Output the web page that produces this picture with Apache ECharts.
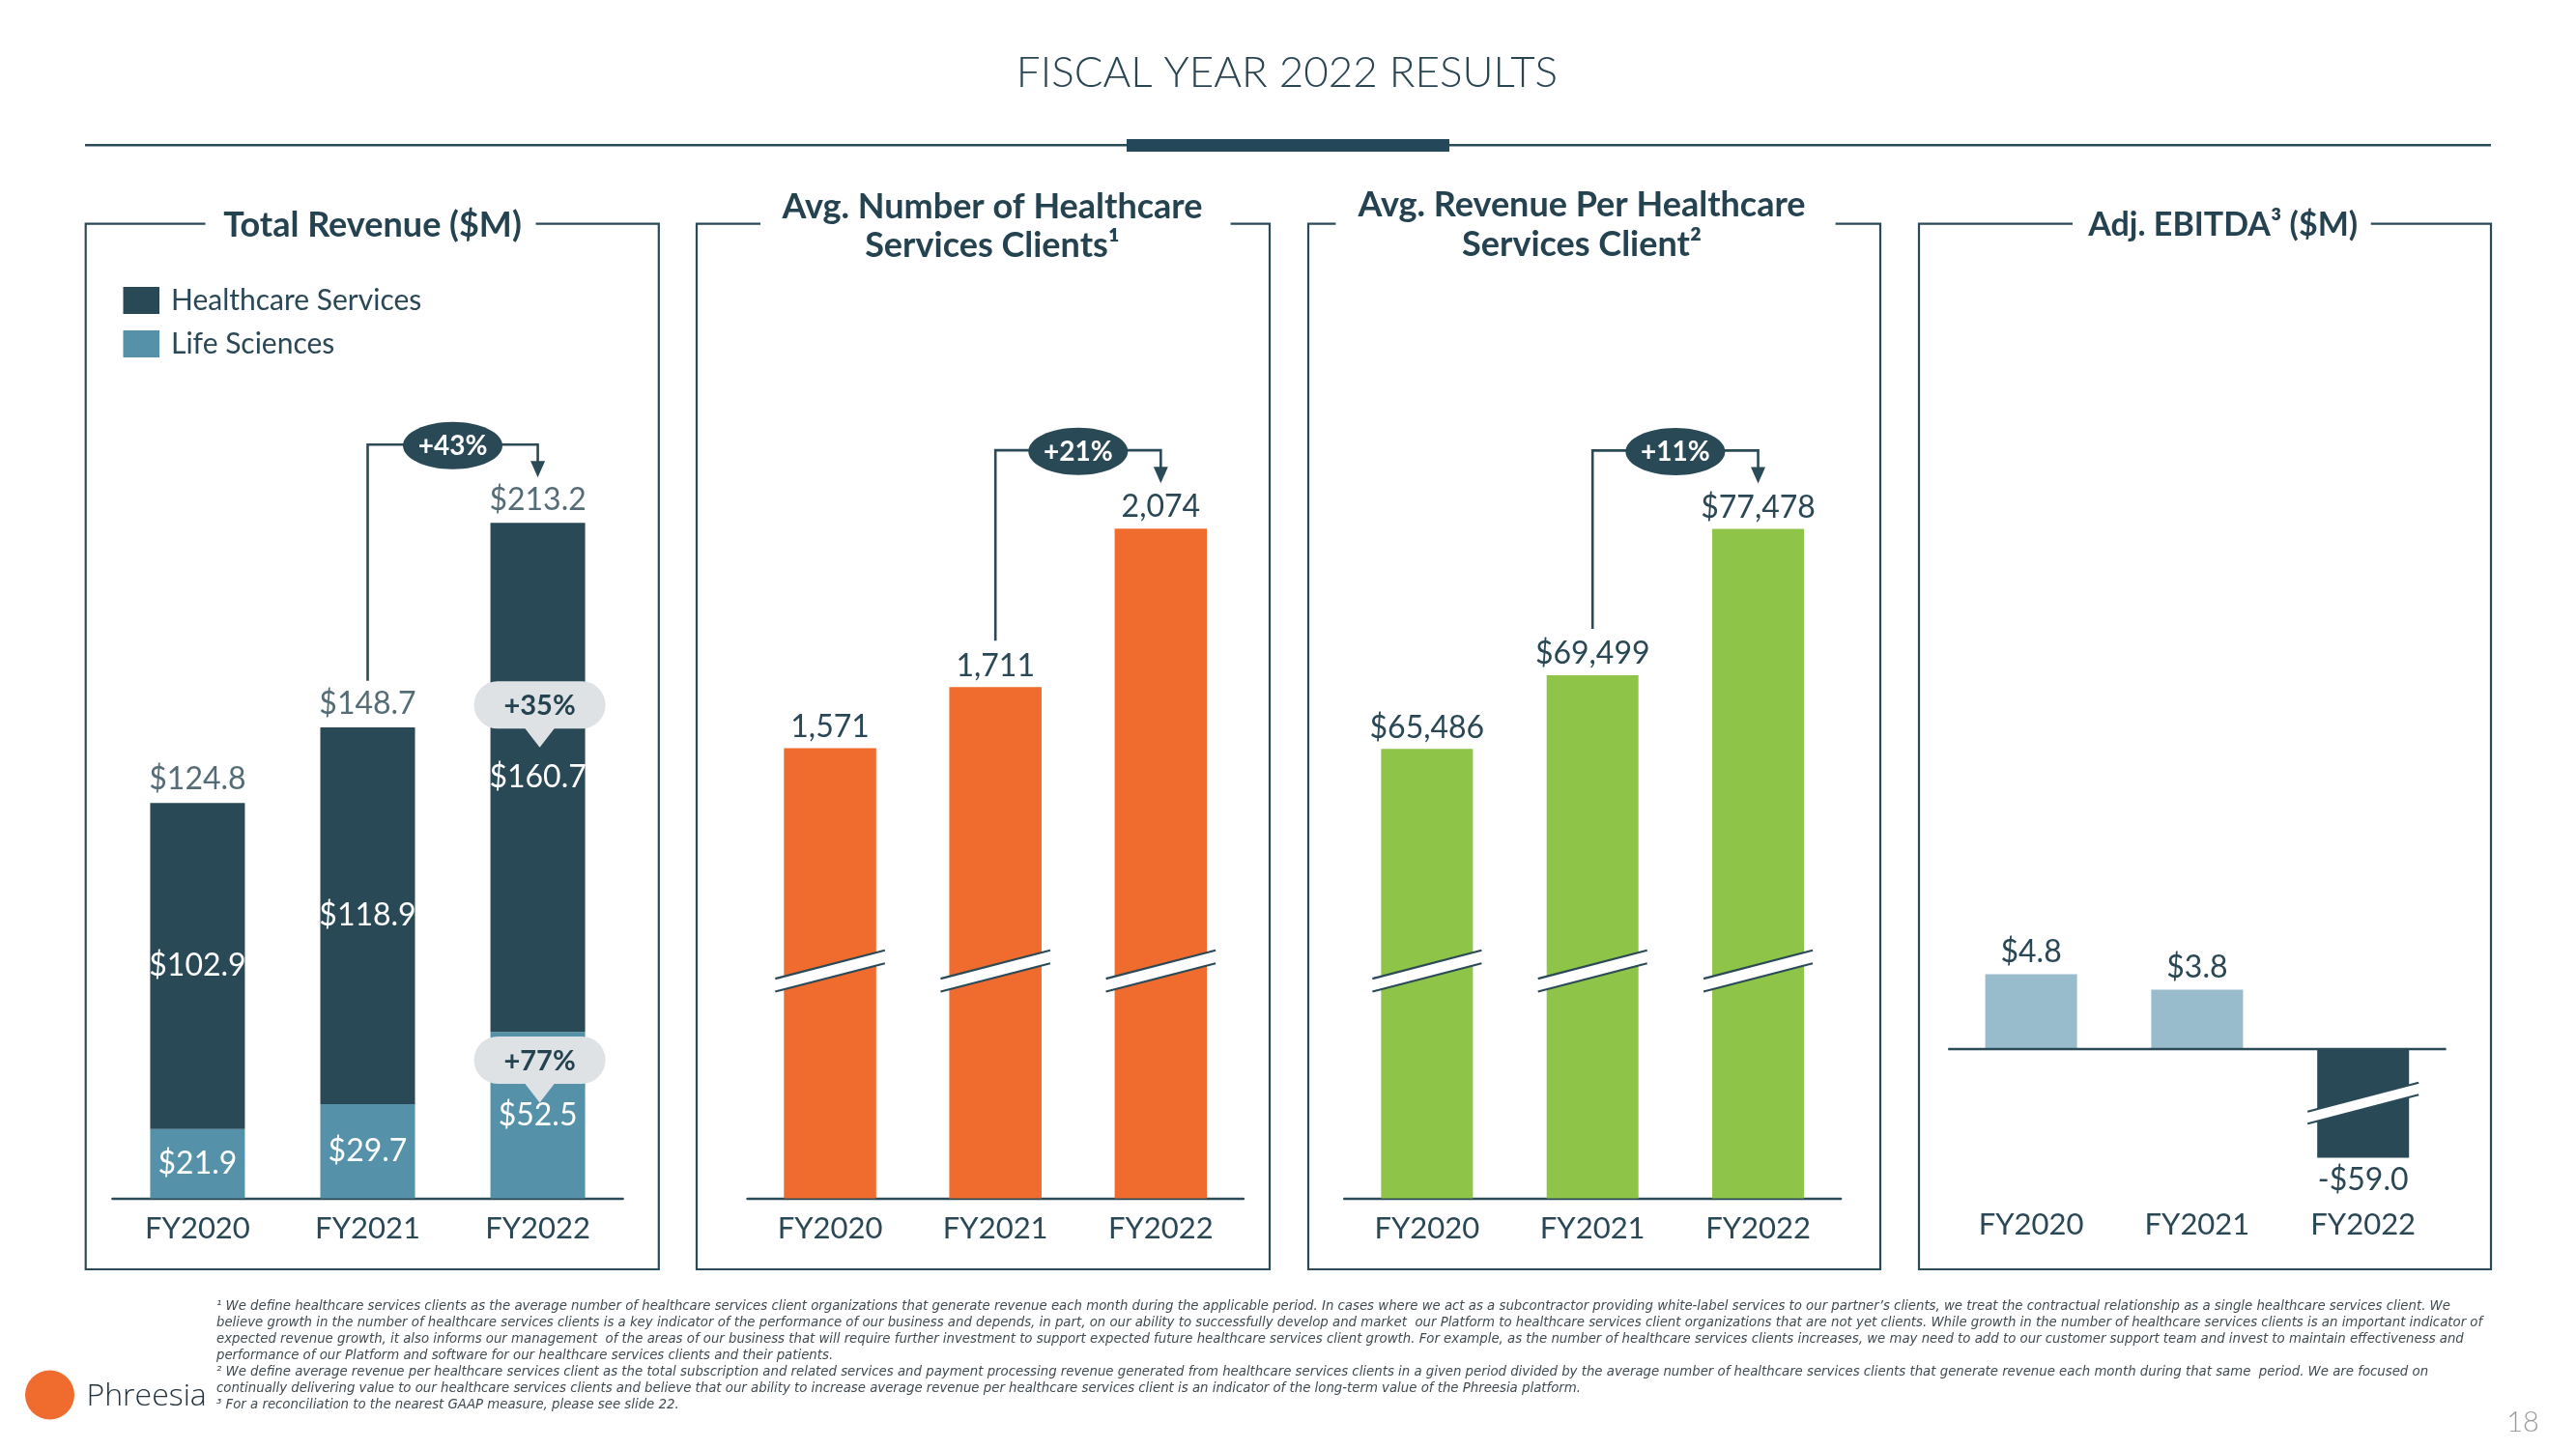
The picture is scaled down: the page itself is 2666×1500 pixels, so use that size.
<!DOCTYPE html>
<html><head><meta charset="utf-8">
<script src="https://cdn.jsdelivr.net/npm/echarts@6/dist/echarts.min.js"></script>
<style>html,body{margin:0;padding:0;background:#fff}#c{width:2666px;height:1500px}</style>
</head><body><div id="c"></div>
<script>
// ---------- data ----------
const categories = ['FY2020', 'FY2021', 'FY2022'];
const healthcareServices = [102.9, 118.9, 160.7];
const lifeSciences = [21.9, 29.7, 52.5];
const totalRevenue = [124.8, 148.7, 213.2];
const avgClients = [1571, 1711, 2074];
const avgRevenuePerClient = [65486, 69499, 77478];
const adjEbitda = [4.8, 3.8, -59.0];
const growthLabels = ['+43%', '+21%', '+11%'];
const segmentGrowth = ['+35%', '+77%'];
const panelTitles = ['Total Revenue ($M)', 'Avg. Number of Healthcare\nServices Clients\u00b9', 'Avg. Revenue Per Healthcare\nServices Client\u00b2', 'Adj. EBITDA\u00b3 ($M)'];
const footnotes = [
  '\u00b9 We define healthcare services clients as the average number of healthcare services client organizations that generate revenue each month during the applicable period. In cases where we act as a subcontractor providing white-label services to our partner\u2019s clients, we treat the contractual relationship as a single healthcare services client. We',
  'believe growth in the number of healthcare services clients is a key indicator of the performance of our business and depends, in part, on our ability to successfully develop and market  our Platform to healthcare services client organizations that are not yet clients. While growth in the number of healthcare services clients is an important indicator of',
  'expected revenue growth, it also informs our management  of the areas of our business that will require further investment to support expected future healthcare services client growth. For example, as the number of healthcare services clients increases, we may need to add to our customer support team and invest to maintain effectiveness and',
  'performance of our Platform and software for our healthcare services clients and their patients.',
  '\u00b2 We define average revenue per healthcare services client as the total subscription and related services and payment processing revenue generated from healthcare services clients in a given period divided by the average number of healthcare services clients that generate revenue each month during that same  period. We are focused on',
  'continually delivering value to our healthcare services clients and believe that our ability to increase average revenue per healthcare services client is an indicator of the long-term value of the Phreesia platform.',
  '\u00b3 For a reconciliation to the nearest GAAP measure, please see slide 22.'
];

// ---------- style ----------
const DARK = '#294956', LSB = '#5591a9', OR = '#f06b2e', GR = '#8ec447', LB = '#98bccb', GRAY = '#dee2e5';
const TXT = '#2a4755', LINE = '#2b4a57', TITLE = '#24424f';
const FONT = 'Lato, "Open Sans", sans-serif';

const fmtM = v => '$' + v.toFixed(1);
const fmtInt = v => Math.round(v).toLocaleString('en-US');
const fmtE = v => (v < 0 ? '-' : '') + '$' + Math.abs(v).toFixed(1);

const chart = echarts.init(document.getElementById('c'), null, {renderer: 'canvas', width: 2666, height: 1500});

const grids = [
  {left: 116.4, width: 528.2, top: 420.5, height: 820},
  {left: 773.5, width: 513.4, top: 490.2, height: 750.3},
  {left: 1391.2, width: 514, top: 480.5, height: 760},
  {left: 2016.2, width: 515.4, top: 860.3, height: 338.1}
];
const yRanges = [[0, 250], [540, 2200], [41000, 81000], [-7, 14]];

const xAxes = grids.map((g, i) => ({
  type: 'category', gridIndex: i, data: categories,
  axisTick: {show: false},
  axisLine: {show: i !== 3, onZero: false, lineStyle: {color: LINE, width: 2.4}},
  axisLabel: {color: TXT, fontSize: 31, fontFamily: FONT, fontWeight: 'normal', margin: i === 3 ? 54 : 16}
}));
const yAxes = yRanges.map((r, i) => ({type: 'value', gridIndex: i, min: r[0], max: r[1], show: false}));

const topLabel = (fmt, extra) => Object.assign({
  show: true, position: 'top', distance: 7, color: TXT, fontSize: 32, fontFamily: FONT, fontWeight: 'normal',
  formatter: p => fmt(p.value)
}, extra || {});
const insideLabel = {show: true, position: 'inside', color: '#fff', fontSize: 32, fontFamily: FONT, fontWeight: 'normal', formatter: p => fmtM(p.value)};

chart.setOption({
  animation: false,
  backgroundColor: '#fff',
  grid: grids,
  xAxis: xAxes,
  yAxis: yAxes,
  legend: {
    data: ['Healthcare Services', 'Life Sciences'], orient: 'vertical', left: 127.5, top: 296, padding: 0,
    itemWidth: 37.5, itemHeight: 28, itemGap: 15, icon: 'rect', selectedMode: false,
    textStyle: {color: TXT, fontSize: 30, fontFamily: FONT, fontWeight: 'normal', lineHeight: 28, padding: [0, 0, 0, 7]}
  },
  series: [
    {name: 'Life Sciences', type: 'bar', xAxisIndex: 0, yAxisIndex: 0, stack: 'rev', data: lifeSciences, barWidth: 98,
     itemStyle: {color: LSB}, label: insideLabel},
    {name: 'Healthcare Services', type: 'bar', xAxisIndex: 0, yAxisIndex: 0, stack: 'rev', data: healthcareServices, barWidth: 98,
     itemStyle: {color: DARK}, label: insideLabel},
    {name: 'Total', type: 'scatter', xAxisIndex: 0, yAxisIndex: 0, data: totalRevenue, symbolSize: 2, silent: true,
     itemStyle: {color: 'rgba(0,0,0,0)'}, label: topLabel(fmtM, {distance: 7})},
    {name: 'Avg. Number of Healthcare Services Clients', type: 'bar', xAxisIndex: 1, yAxisIndex: 1, data: avgClients, barWidth: 95.5, clip: true,
     itemStyle: {color: OR}, label: topLabel(fmtInt, {distance: 6})},
    {name: 'Avg. Revenue Per Healthcare Services Client', type: 'bar', xAxisIndex: 2, yAxisIndex: 2, data: avgRevenuePerClient, barWidth: 95, clip: true,
     itemStyle: {color: GR}, label: topLabel(v => '$' + fmtInt(v), {distance: 6})},
    {name: 'Adj. EBITDA', type: 'bar', xAxisIndex: 3, yAxisIndex: 3, barWidth: 95, clip: true,
     data: adjEbitda.map(v => ({value: v, itemStyle: {color: v < 0 ? DARK : LB}, label: {position: v < 0 ? 'bottom' : 'top'}})),
     label: topLabel(fmtE),
     markLine: {silent: true, symbol: 'none', label: {show: false}, lineStyle: {color: LINE, width: 2.4, type: 'solid'}, data: [{yAxis: 0}]}}
  ]
});

// ---------- decorations ----------
const G = [];
const px = (gi, i, v) => chart.convertToPixel({gridIndex: gi}, [i, v]);
const text = (x, y, t, opt) => G.push({type: 'text', z: 200, silent: true, style: Object.assign({
  x, y, text: t, fill: TXT, fontFamily: FONT, fontSize: 30, textAlign: 'center', textVerticalAlign: 'middle'}, opt || {})});
const pline = (pts, color, w, z) => G.push({type: 'polyline', z: z || 150, silent: true, shape: {points: pts}, style: {stroke: color || LINE, lineWidth: w || 2.2, fill: null}});
const poly = (pts, fill, z) => G.push({type: 'polygon', z: z || 150, silent: true, shape: {points: pts}, style: {fill}});

// header
text(1332, 76, 'FISCAL YEAR 2022 RESULTS', {fontSize: 44, fontWeight: 300, fill: '#2a4552'});
G.push({type: 'rect', z: 100, silent: true, shape: {x: 88, y: 149, width: 2490, height: 2.6}, style: {fill: LINE}});
G.push({type: 'rect', z: 101, silent: true, shape: {x: 1166, y: 144, width: 334, height: 13}, style: {fill: '#24485a'}});

// panel frames
const frames = [[88.7, 681.8, 212.5, 554.5], [721, 1314, 787, 1273.6], [1354, 1946, 1382.4, 1899.6], [1986, 2578, 2145, 2453.7]];
const FT = 231.7, FB = 1314;
frames.forEach(f => pline([[f[3], FT], [f[1], FT], [f[1], FB], [f[0], FB], [f[0], FT], [f[2], FT]], LINE, 2.2, 100));
const titlePos = [[385.5, 233, 36, 36], [1027, 234, 40, 36], [1637, 232.5, 41, 36], [2300.7, 233.5, 36, 34]];
panelTitles.forEach((t, i) => text(titlePos[i][0], titlePos[i][1], t, {fontSize: titlePos[i][3], fontWeight: 'bold', fill: TITLE, lineHeight: titlePos[i][2]}));

// growth brackets
function bracket(gi, vMid, vTop, label) {
  const p1 = px(gi, 1, vMid), p2 = px(gi, 2, vTop);
  const yB = p2[1] - 81, yV = p1[1] - 48, yTip = p2[1] - 47;
  pline([[p1[0], yV], [p1[0], yB], [p2[0], yB], [p2[0], yTip - 12]], LINE, 2.6);
  poly([[p2[0] - 7.5, yTip - 17], [p2[0] + 7.5, yTip - 17], [p2[0], yTip]], LINE);
  const cx = (p1[0] + p2[0]) / 2;
  G.push({type: 'ellipse', z: 160, silent: true, shape: {cx, cy: yB + 1, rx: 51.5, ry: 24.5}, style: {fill: DARK}});
  text(cx, yB + 2, label, {fill: '#fff', fontWeight: 'bold', fontSize: 28});
}
bracket(0, totalRevenue[1], totalRevenue[2], growthLabels[0]);
bracket(1, avgClients[1], avgClients[2], growthLabels[1]);
bracket(2, avgRevenuePerClient[1], avgRevenuePerClient[2], growthLabels[2]);

// segment growth pills (panel 1, FY2022)
function pill(cx, cy, label) {
  G.push({type: 'rect', z: 170, silent: true, shape: {x: cx - 68, y: cy - 24.5, width: 136, height: 49, r: 24.5}, style: {fill: GRAY}});
  poly([[cx - 17, cy + 22], [cx + 17, cy + 22], [cx, cy + 44]], GRAY, 170);
  text(cx, cy + 1, label, {fill: TITLE, fontWeight: 'bold', fontSize: 29});
}
const hsMid = px(0, 2, lifeSciences[2] + healthcareServices[2] / 2);
const lsMid = px(0, 2, lifeSciences[2] / 2);
pill(hsMid[0] + 2, hsMid[1] - 75, segmentGrowth[0]);
pill(lsMid[0] + 2, lsMid[1] - 57, segmentGrowth[1]);

// axis-break marks
function breakMark(cx, yLeft, halfW, ext, rise, gap) {
  const xl = cx - halfW - ext, xr = cx + halfW + ext;
  poly([[xl, yLeft], [xr, yLeft - rise], [xr, yLeft - rise + gap], [xl, yLeft + gap]], '#fff', 180);
  pline([[xl, yLeft], [xr, yLeft - rise]], LINE, 2.2, 181);
  pline([[xl, yLeft + gap], [xr, yLeft - rise + gap]], LINE, 2.2, 181);
}
[[1, yRanges[1][0], 95.5], [2, yRanges[2][0], 95]].forEach(([gi, base, bw]) => {
  categories.forEach((c, i) => {
    const p = px(gi, i, base);
    breakMark(p[0], p[1] - 227.4, bw / 2, 9, 29.3, 13.4);
  });
});
adjEbitda.forEach((v, i) => {
  if (v < yRanges[3][0]) {
    const p = px(3, i, 0);
    breakMark(p[0], p[1] + 65, 47.5, 10, 30, 12.6);
  }
});

// footnotes
text(224, 1344, footnotes.join('\n'), {fontFamily: '"DejaVu Sans", sans-serif', fontStyle: 'italic', fontSize: 13.3, lineHeight: 17, textAlign: 'left', textVerticalAlign: 'top', fill: '#3f4a50'});

// logo and page number
G.push({type: 'circle', z: 100, silent: true, shape: {cx: 51.5, cy: 1444, r: 25.5}, style: {fill: OR}});
text(89.5, 1446, 'Phreesia', {fontFamily: '"Open Sans", sans-serif', fontSize: 32, fontWeight: 300, fill: '#24333d', textAlign: 'left'});
text(2611, 1473, '18', {fontSize: 29, fontWeight: 300, fill: '#9b9b9b'});

chart.setOption({graphic: G});
</script>
</body></html>
